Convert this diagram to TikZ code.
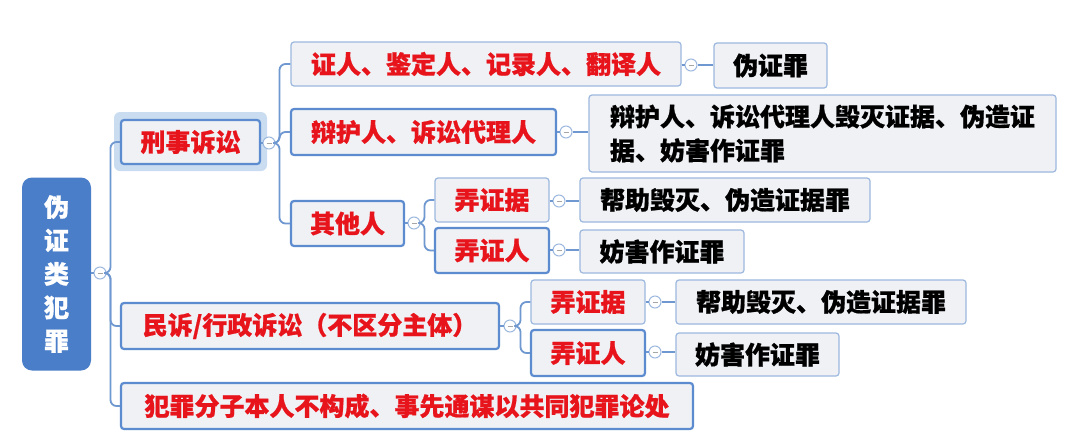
\documentclass[tikz,border=0pt]{standalone}
\usepackage{fontspec}
\setmainfont{Noto Sans CJK SC}[BoldFeatures={FakeBold=0.8}]
\definecolor{rootblue}{HTML}{4A7EC9}
\definecolor{boxfill}{HTML}{EFF1F5}
\definecolor{thinb}{HTML}{9DB8DE}
\definecolor{thickb}{HTML}{5C8CCF}
\definecolor{connc}{HTML}{6F98D0}
\definecolor{redtxt}{HTML}{E8141C}
\definecolor{glow}{HTML}{C9DCF0}
\tikzset{
  base/.style={rectangle, rounded corners=3pt, fill=boxfill, inner sep=0pt,
    font=\fontsize{25}{34}\selectfont\bfseries},
  thinbox/.style={base, draw=thinb, line width=1.2pt},
  thickbox/.style={base, draw=thickb, line width=2.2pt},
  redt/.style={text=redtxt},
  blackt/.style={text=black},
  sz/.style 2 args={minimum width=#1, minimum height=#2},
  toggle/.style={circle, draw=thinb, fill=white, line width=1pt, minimum size=12pt, inner sep=0pt,
    path picture={\draw[gray!70, line width=0.8pt] ([xshift=-2.5pt]path picture bounding box.center) -- ([xshift=2.5pt]path picture bounding box.center);}},
  conn/.style={draw=connc, line width=1.8pt, rounded corners=6pt},
}
\begin{document}
\begin{tikzpicture}[x=1pt,y=-1pt]
\useasboundingbox (0,0) rectangle (1080,445);
\fill[white] (0,0) rectangle (1080,445);
% glow around selected node
\fill[glow, rounded corners=6pt] (114,112) rectangle (267,171);

% root
\node[rectangle, rounded corners=10pt, fill=rootblue, sz={69pt}{193pt}, text=white, align=center,
  font=\fontsize{25}{33.5}\selectfont\bfseries] (root) at (56.5,274) {伪\\证\\类\\犯\\罪};

% level 1
\node[thickbox, redt, sz={139pt}{44pt}] (xs) at (190.5,142) {刑事诉讼};
\node[thickbox, redt, sz={378pt}{46pt}] (ms) at (310,326) {民诉/行政诉讼（不区分主体）};
\node[thickbox, redt, sz={572pt}{46pt}] (fz) at (407,406) {犯罪分子本人不构成、事先通谋以共同犯罪论处};

% level 2 under 刑事诉讼
\node[thinbox, redt, sz={390pt}{44pt}] (zr) at (486,64) {证人、鉴定人、记录人、翻译人};
\node[thickbox, redt, sz={265pt}{46pt}] (bh) at (423.5,132) {辩护人、诉讼代理人};
\node[thickbox, redt, sz={113pt}{45pt}] (qt) at (347.5,223.5) {其他人};

% results
\node[thinbox, blackt, sz={113pt}{45pt}] (wz) at (770.5,65.5) {伪证罪};
\node[thinbox, blackt, sz={467pt}{77pt}, align=left] (big) at (822.5,133.5) {辩护人、诉讼代理人毁灭证据、伪造证\\据、妨害作证罪};

\node[thinbox, redt, sz={114pt}{44pt}] (nj1) at (492,200) {弄证据};
\node[thickbox, redt, sz={114pt}{45pt}] (nr1) at (492,250.5) {弄证人};
\node[thinbox, blackt, sz={290pt}{44pt}] (bz1) at (725,200) {帮助毁灭、伪造证据罪};
\node[thinbox, blackt, sz={164pt}{43pt}] (fh1) at (662,251.5) {妨害作证罪};

\node[thinbox, redt, sz={114pt}{44pt}] (nj2) at (588,302) {弄证据};
\node[thickbox, redt, sz={114pt}{46pt}] (nr2) at (588,353) {弄证人};
\node[thinbox, blackt, sz={290pt}{44pt}] (bz2) at (821,302) {帮助毁灭、伪造证据罪};
\node[thinbox, blackt, sz={163pt}{43pt}] (fh2) at (757.5,354.5) {妨害作证罪};

% toggles
\node[toggle] (t0) at (100,273) {};
\node[toggle] (t1) at (269,143) {};
\node[toggle] (t2) at (691,65) {};
\node[toggle] (t3) at (566,132) {};
\node[toggle] (t4) at (414,223) {};
\node[toggle] (t5) at (559,201) {};
\node[toggle] (t6) at (559,250) {};
\node[toggle] (t7) at (510,326) {};
\node[toggle] (t8) at (655,302) {};
\node[toggle] (t9) at (655,352) {};

% connectors
\draw[conn] (root.east |- t0) -- (t0.west);
\draw[conn] (t0.east) -- ++(4,0) |- (xs.west);
\draw[conn] (t0.east) -- ++(4,0) |- (ms.west);
\draw[conn] (t0.east) -- ++(4,0) |- (fz.west);

\draw[conn] (xs.east |- t1) -- (t1.west);
\draw[conn] (t1.east) -- ++(4,0) |- (zr.west);
\draw[conn] (t1.east) -- ++(4,0) |- (bh.west);
\draw[conn] (t1.east) -- ++(4,0) |- (qt.west);

\draw[conn] (zr.east |- t2) -- (t2.west);
\draw[conn] (t2.east) -- (wz.west |- t2);
\draw[conn] (bh.east |- t3) -- (t3.west);
\draw[conn] (t3.east) -- (big.west |- t3);

\draw[conn] (qt.east |- t4) -- (t4.west);
\draw[conn] (t4.east) -- ++(4,0) |- (nj1.west);
\draw[conn] (t4.east) -- ++(4,0) |- (nr1.west);
\draw[conn] (nj1.east |- t5) -- (t5.west);
\draw[conn] (t5.east) -- (bz1.west |- t5);
\draw[conn] (nr1.east |- t6) -- (t6.west);
\draw[conn] (t6.east) -- (fh1.west |- t6);

\draw[conn] (ms.east |- t7) -- (t7.west);
\draw[conn] (t7.east) -- ++(4,0) |- (nj2.west);
\draw[conn] (t7.east) -- ++(4,0) |- (nr2.west);
\draw[conn] (nj2.east |- t8) -- (t8.west);
\draw[conn] (t8.east) -- (bz2.west |- t8);
\draw[conn] (nr2.east |- t9) -- (t9.west);
\draw[conn] (t9.east) -- (fh2.west |- t9);
\end{tikzpicture}
\end{document}
